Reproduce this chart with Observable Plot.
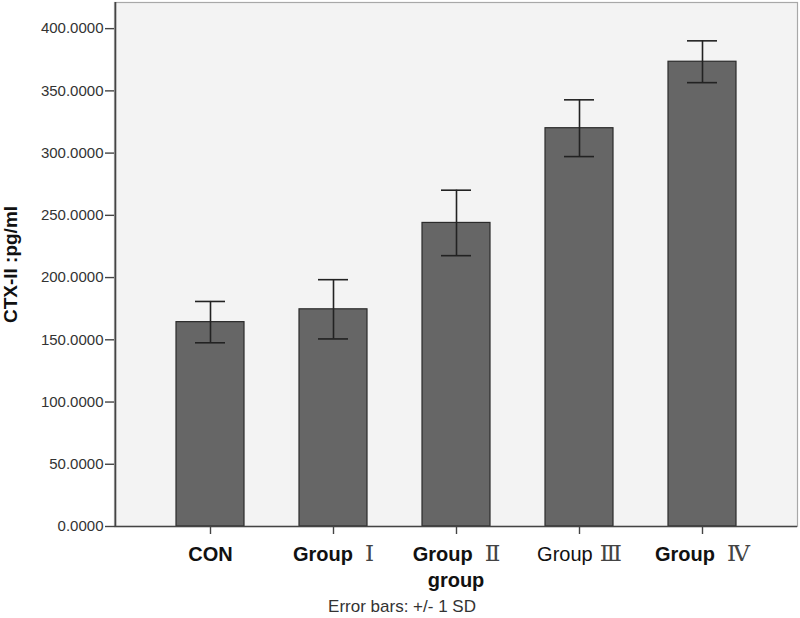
<!DOCTYPE html>
<html>
<head>
<meta charset="utf-8">
<script src="https://cdn.jsdelivr.net/npm/d3@7"></script>
<script src="https://cdn.jsdelivr.net/npm/@observablehq/plot@0.6"></script>
<style>
  html, body { margin: 0; padding: 0; background: #fff; }
  svg { display: block; }
</style>
</head>
<body>
<div id="chart"></div>
<script>
const groups = ["CON", "Group Ⅰ", "Group Ⅱ", "Group Ⅲ", "Group Ⅳ"];
const means  = [164.2, 174.5, 243.9, 320.0, 373.4];
const sds    = [16.6, 23.8, 26.3, 22.8, 16.8];
const yTicks = [0, 50, 100, 150, 200, 250, 300, 350, 400];

const data = groups.map((g, i) => ({group: g, mean: means[i], lo: means[i] - sds[i], hi: means[i] + sds[i]}));

const plot = Plot.plot({
  width: 800,
  height: 618,
  marginLeft: 114,
  marginRight: 3,
  marginTop: 2,
  marginBottom: 92,
  style: {fontFamily: "'Liberation Sans', Arial, sans-serif", background: "#fff"},
  x: {domain: groups, paddingInner: 0.448, paddingOuter: 0.495, label: null},
  y: {domain: [0, 421], label: null},
  marks: [
    Plot.frame({fill: "#f3f3f3", stroke: "#a8a8a8", strokeWidth: 1.2}),
    Plot.axisY({ticks: yTicks, tickFormat: d3.format(".4f"), tickSize: 9, tickPadding: 2, fontSize: 15, color: "#333", stroke: "#444", strokeWidth: 1.4}),
    Plot.axisX({tickSize: 8, tickPadding: 12, fontSize: 20, color: "#111", stroke: "#444", strokeWidth: 1.4}),
    Plot.barY(data, {x: "group", y: "mean", fill: "#666666", stroke: "#2b2b2b", strokeWidth: 1.2}),
    Plot.ruleX(data, {x: "group", y1: "lo", y2: "hi", stroke: "#222", strokeWidth: 1.6}),
    Plot.tickY(data, {x: "group", y: "hi", stroke: "#222", strokeWidth: 1.6, inset: 19}),
    Plot.tickY(data, {x: "group", y: "lo", stroke: "#222", strokeWidth: 1.6, inset: 19}),
    Plot.ruleY([0], {stroke: "#444", strokeWidth: 1.6}),
    Plot.ruleX([0], {x: () => groups[0], dx: -95, stroke: "#444", strokeWidth: 1.6}),
    Plot.text(["CTX-II :pg/ml"], {frameAnchor: "left", textAnchor: "middle", dx: -104, rotate: -90, fontSize: 19, fontWeight: "bold", fill: "#111"}),
    Plot.text(["group"], {frameAnchor: "bottom", dy: 60, fontSize: 20, fontWeight: "bold", fill: "#111"}),
    Plot.text(["Error bars: +/- 1 SD"], {frameAnchor: "bottom", dx: -54, dy: 85, fontSize: 17, fill: "#333"})
  ]
});

// Style x tick labels: bold sans "Group", serif Roman numeral
d3.select(plot).selectAll('g[aria-label="x-axis tick label"] text').each(function() {
  const t = d3.select(this);
  const s = t.text();
  const m = s.match(/^(Group)\s+(\S+)$/);
  const bold = s !== "Group Ⅲ";
  if (m) {
    t.text(null);
    t.append("tspan").attr("font-weight", bold ? "bold" : "normal").text(m[1]);
    t.append("tspan").attr("dx", bold ? 12 : 7).attr("font-family", "'Liberation Serif', 'DejaVu Serif', serif").attr("font-weight", "normal").attr("font-size", 23).attr("fill", "#444").text(m[2]);
  } else {
    t.attr("font-weight", "bold");
  }
});

document.getElementById("chart").appendChild(plot);
</script>
</body>
</html>
